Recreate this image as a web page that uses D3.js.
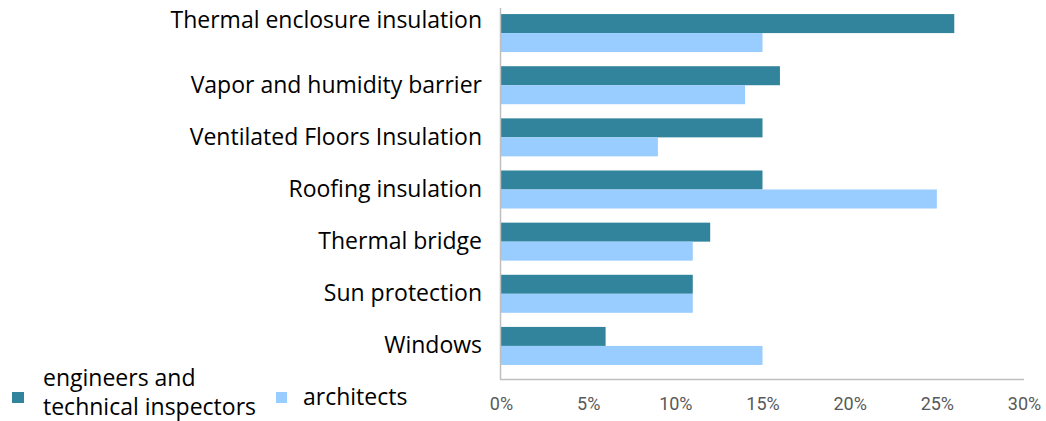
<!DOCTYPE html>
<html>
<head>
<meta charset="utf-8">
<script src="https://cdn.jsdelivr.net/npm/d3@7"></script>
<style>
  html, body { margin: 0; padding: 0; background: #fff; }
  svg { display: block; }
</style>
</head>
<body>
<svg id="chart" width="1046" height="421"></svg>
<script>
const categories = [
  "Thermal enclosure insulation",
  "Vapor and humidity barrier",
  "Ventilated Floors Insulation",
  "Roofing insulation",
  "Thermal bridge",
  "Sun protection",
  "Windows"
];
const engineers = [26, 16, 15, 15, 12, 11, 6];
const architects = [15, 14, 9, 25, 11, 11, 15];
const tickValues = [0, 5, 10, 15, 20, 25, 30];
const seriesNames = ["engineers and technical inspectors", "architects"];

const colors = ["#31849B", "#99CCFF"];
const labelFont = "'Open Sans', sans-serif";
const labelSize = "23px";

const svg = d3.select("#chart");

const x = d3.scaleLinear().domain([0, 30]).range([501, 1024]);
const y = d3.scaleBand().domain(categories).range([7, 372]).paddingInner(0).paddingOuter(0);
const barH = 19;

// bars
const groups = svg.append("g").selectAll("g")
  .data(categories)
  .join("g")
  .attr("transform", d => `translate(0,${y(d) + y.bandwidth() / 2})`);

groups.append("rect")
  .attr("x", x(0))
  .attr("y", -barH)
  .attr("width", (d, i) => x(engineers[i]) - x(0))
  .attr("height", barH)
  .attr("fill", colors[0]);

groups.append("rect")
  .attr("x", x(0))
  .attr("y", 0)
  .attr("width", (d, i) => x(architects[i]) - x(0))
  .attr("height", barH)
  .attr("fill", colors[1]);

// axes lines
svg.append("line")
  .attr("x1", 500.5).attr("x2", 500.5)
  .attr("y1", 8).attr("y2", 379.5)
  .attr("stroke", "#BFBFBF").attr("stroke-width", 1.5);
svg.append("line")
  .attr("x1", 500).attr("x2", x(30))
  .attr("y1", 379.5).attr("y2", 379.5)
  .attr("stroke", "#BFBFBF").attr("stroke-width", 1.5);

// x tick labels
const xAxis = d3.axisBottom(x)
  .tickValues(tickValues)
  .tickFormat(d => d + "%")
  .tickSize(0)
  .tickPadding(0);
const gx = svg.append("g").attr("transform", "translate(0,397)").call(xAxis);
gx.select(".domain").remove();
gx.selectAll("text")
  .attr("dy", "0.71em")
  .style("font-family", "Roboto, sans-serif")
  .style("font-size", "18px")
  .attr("fill", "#595959");

// category labels
const yAxis = d3.axisLeft(y).tickSize(0).tickPadding(18);
const gy = svg.append("g").attr("transform", "translate(500,0)").call(yAxis);
gy.select(".domain").remove();
gy.selectAll("text")
  .style("font-family", labelFont)
  .style("font-size", labelSize)
  .attr("fill", "#000")
  .attr("dy", "0.32em")
  .attr("y", (d, i) => i === 0 ? -12 : 0);

// legend
const legend = svg.append("g");
legend.append("rect").attr("x", 12).attr("y", 392).attr("width", 12).attr("height", 11).attr("fill", colors[0]);
legend.append("text")
  .attr("x", 43).attr("y", 386)
  .style("font-family", labelFont).style("font-size", labelSize).attr("fill", "#000")
  .selectAll("tspan")
  .data(["engineers and", "technical inspectors"])
  .join("tspan")
  .attr("x", 43)
  .attr("dy", (d, i) => i === 0 ? 0 : 29)
  .text(d => d);
legend.append("rect").attr("x", 276).attr("y", 392).attr("width", 11).attr("height", 11).attr("fill", colors[1]);
legend.append("text")
  .attr("x", 303).attr("y", 405)
  .style("font-family", labelFont).style("font-size", labelSize).attr("fill", "#000")
  .text(seriesNames[1]);
</script>
</body>
</html>
